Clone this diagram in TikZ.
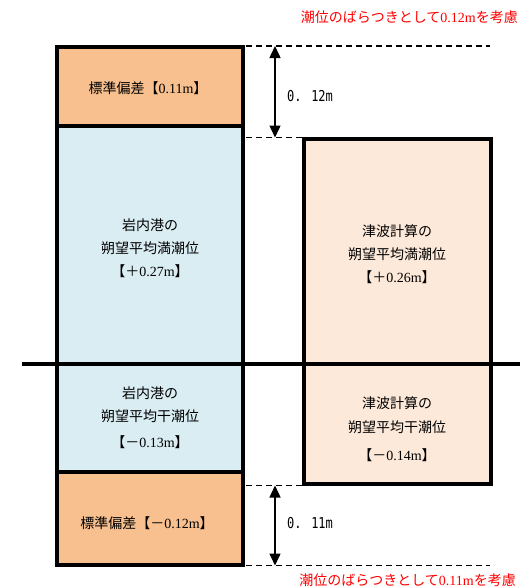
\documentclass[tikz,border=0pt]{standalone}
\usepackage{fontspec}
\setmainfont{Liberation Serif}
\newfontfamily\jp{Noto Sans CJK JP}
\newfontfamily\mono{DejaVu Sans Mono}
\usetikzlibrary{arrows.meta}
\definecolor{orng}{HTML}{F8C08F}
\definecolor{lblue}{HTML}{DAEDF3}
\definecolor{peach}{HTML}{FDE9D9}
\tikzset{
  box/.style={draw=black,line width=4pt},
  lbl/.style={font=\fontsize{14pt}{16pt}\selectfont,align=center,inner sep=0pt},
  dashline/.style={line width=1.3pt,dash pattern=on 6pt off 4pt},
  dim/.style={line width=1.5pt,{Triangle[width=11pt,length=12pt]}-{Triangle[width=11pt,length=12pt]}},
  redlbl/.style={text=red,font=\fontsize{14pt}{16pt}\selectfont,anchor=east,inner sep=0pt},
  dimlbl/.style={font=\mono\fontsize{15pt}{17pt}\selectfont,anchor=west,inner sep=0pt}
}
\begin{document}
\begin{tikzpicture}[x=1pt,y=-1pt]
\useasboundingbox (0,0) rectangle (520,587);
% fills
\fill[orng] (57,47) rectangle (243,126);
\fill[lblue] (57,126) rectangle (243,472);
\fill[orng] (57,472) rectangle (243,565);
\fill[peach] (304,139) rectangle (491,484);
% borders
\draw[box] (57,47) rectangle (243,565);
\draw[box] (57,126) -- (243,126);
\draw[box] (57,472) -- (243,472);
\draw[box] (304,139) rectangle (491,484);
\draw[box] (22,364) -- (520,364);
% dashed lines
\coordinate (ta) at (246,46);
\coordinate (tb) at (490,46);
\coordinate (ma) at (246,137.5);
\coordinate (mb) at (302,137.5);
\coordinate (na) at (246,485.5);
\coordinate (nb) at (302,485.5);
\coordinate (ba) at (246,565.5);
\coordinate (bb) at (490,565.5);
\draw[dashline] (ta) -- (tb);
\draw[dashline] (ma) -- (mb);
\draw[dashline] (na) -- (nb);
\draw[dashline] (ba) -- (bb);
% dimension arrows
\coordinate (a1) at (275,46);
\coordinate (a2) at (275,137.5);
\coordinate (a3) at (275,485.5);
\coordinate (a4) at (275,565.5);
\draw[dim] (a1) -- (a2);
\draw[dim] (a3) -- (a4);
\node[dimlbl] (d1) at (287,96) {\scalebox{0.8}[1]{0. 12m}};
\node[dimlbl] (d2) at (287,523) {\scalebox{0.8}[1]{0. 11m}};
% red notes
\node[redlbl] (r1) at (518,17) {{\jp 潮位のばらつきとして}0.12m{\jp を考慮}};
\node[redlbl] (r2) at (516,580) {{\jp 潮位のばらつきとして}0.11m{\jp を考慮}};
% box texts
\node[lbl] (t1) at (148,88) {{\jp 標準偏差【}0.11m{\jp 】}};
\node[lbl] (t2a) at (150,225) {\jp 岩内港の};
\node[lbl] (t2b) at (150,248) {\jp 朔望平均満潮位};
\node[lbl] (t2c) at (150,271) {{\jp 【＋}0.27m{\jp 】}};
\node[lbl] (t3a) at (150,393) {\jp 岩内港の};
\node[lbl] (t3b) at (150,416) {\jp 朔望平均干潮位};
\node[lbl] (t3c) at (150,442) {{\jp 【－}0.13m{\jp 】}};
\node[lbl] (t4) at (147,523) {{\jp 標準偏差【－}0.12m{\jp 】}};
\node[lbl] (t5a) at (397,231) {\jp 津波計算の};
\node[lbl] (t5b) at (397,254) {\jp 朔望平均満潮位};
\node[lbl] (t5c) at (397,277) {{\jp 【＋}0.26m{\jp 】}};
\node[lbl] (t6a) at (397,403) {\jp 津波計算の};
\node[lbl] (t6b) at (397,427) {\jp 朔望平均干潮位};
\node[lbl] (t6c) at (397,455) {{\jp 【－}0.14m{\jp 】}};
\end{tikzpicture}
\end{document}
